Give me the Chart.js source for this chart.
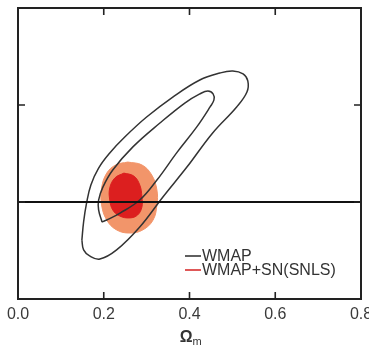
<!DOCTYPE html>
<html>
<head>
<meta charset="utf-8">
<script src="https://cdn.jsdelivr.net/npm/chart.js@4/dist/chart.umd.min.js"></script>
<style>
  html, body { margin: 0; padding: 0; background: #fff; }
  canvas { display: block; }
</style>
</head>
<body>
<canvas id="omega" width="369" height="350"></canvas>
<script>
// axis ticks
var xTicks = [0.0, 0.2, 0.4, 0.6, 0.8]
var yTicks = [-1.5, -1.0, -0.5, 0.0]

// WMAP contours (Omega_m, w)
var wmapOuterX = [0.149, 0.153, 0.160, 0.170, 0.188, 0.214, 0.249, 0.300, 0.361, 0.424, 0.471, 0.501,
                  0.525, 0.536, 0.534, 0.510, 0.454, 0.394, 0.338, 0.284, 0.230, 0.191, 0.167, 0.153]
var wmapOuterW = [-1.196, -1.103, -1.005, -0.912, -0.825, -0.747, -0.665, -0.562, -0.459, -0.371, -0.335, -0.325,
                  -0.340, -0.376, -0.433, -0.510, -0.644, -0.820, -0.974, -1.129, -1.247, -1.294, -1.278, -1.247]
var wmapInnerX = [0.196, 0.188, 0.188, 0.198, 0.221, 0.268, 0.331, 0.389, 0.424, 0.443, 0.455, 0.457,
                  0.448, 0.417, 0.370, 0.324, 0.284, 0.238, 0.207]
var wmapInnerW = [-1.103, -1.041, -0.990, -0.923, -0.835, -0.716, -0.593, -0.490, -0.443, -0.428, -0.443, -0.474,
                  -0.510, -0.613, -0.747, -0.887, -0.990, -1.057, -1.093]

// WMAP+SN(SNLS) filled regions
var snOuterX = [0.256, 0.289, 0.312, 0.324, 0.324, 0.315, 0.291, 0.261, 0.230, 0.207, 0.195, 0.195, 0.207, 0.228]
var snOuterW = [-0.794, -0.809, -0.861, -0.938, -1.015, -1.093, -1.144, -1.160, -1.144, -1.093, -1.015, -0.928, -0.851, -0.809]
var snInnerX = [0.247, 0.270, 0.284, 0.289, 0.289, 0.279, 0.261, 0.237, 0.221, 0.214, 0.214, 0.226]
var snInnerW = [-0.851, -0.866, -0.912, -0.974, -1.026, -1.067, -1.082, -1.072, -1.041, -0.990, -0.928, -0.876]

// w = -1 reference line
var wConst = -1.0

var legendLabels = ['WMAP', 'WMAP+SN(SNLS)']
var legendColors = ['#2a2a2a', '#d42020']

function loop(xs, ws) {
  var p = xs.map(function(x, i){ return {x: x, y: ws[i]} })
  p.push({x: xs[0], y: ws[0]})
  return p
}

var FONT = '"Liberation Sans", Arial, sans-serif'

var framePlugin = {
  id: 'frame',
  afterDraw: function(chart) {
    var ctx = chart.ctx
    var a = chart.chartArea
    var xs = chart.scales.x, ys = chart.scales.y
    ctx.save()
    ctx.strokeStyle = '#222'
    ctx.lineWidth = 2
    ctx.strokeRect(a.left, a.top, a.right - a.left, a.bottom - a.top)

    // inward ticks on all four sides
    ctx.lineWidth = 1.6
    ctx.beginPath()
    xTicks.slice(1, -1).forEach(function(v){
      var px = xs.getPixelForValue(v)
      ctx.moveTo(px, a.bottom); ctx.lineTo(px, a.bottom - 7)
      ctx.moveTo(px, a.top); ctx.lineTo(px, a.top + 7)
    })
    yTicks.slice(1, -1).forEach(function(v){
      var py = ys.getPixelForValue(v)
      ctx.moveTo(a.left, py); ctx.lineTo(a.left + 7, py)
      ctx.moveTo(a.right, py); ctx.lineTo(a.right - 7, py)
    })
    ctx.stroke()

    // legend
    ctx.font = '16px ' + FONT
    ctx.textBaseline = 'middle'
    legendLabels.forEach(function(t, i){
      var y = 256 + i * 14
      ctx.strokeStyle = legendColors[i]
      ctx.lineWidth = 1.5
      ctx.beginPath(); ctx.moveTo(185, y); ctx.lineTo(201, y); ctx.stroke()
      ctx.fillStyle = '#333'
      ctx.fillText(t, 202, y + 1)
    })

    // axis title: Omega with subscript m
    var cx = xs.getPixelForValue(0.4)
    ctx.fillStyle = '#333'
    ctx.textBaseline = 'alphabetic'
    ctx.font = 'bold 16px ' + FONT
    ctx.textAlign = 'right'
    ctx.fillText('\u03A9', cx + 3, 342)
    ctx.font = '11px ' + FONT
    ctx.textAlign = 'left'
    ctx.fillText('m', cx + 3, 345)
    ctx.restore()
  }
}

var ctx = document.getElementById('omega').getContext('2d')

var chart = new Chart(ctx, {
  type: 'scatter',
  data: {
    datasets: [
      {
        label: 'w=-1',
        data: [{x: xTicks[0], y: wConst}, {x: xTicks[xTicks.length - 1], y: wConst}],
        showLine: true, tension: 0, borderColor: '#111', borderWidth: 1.8,
        pointRadius: 0, order: 0
      },
      {
        label: 'WMAP inner',
        data: loop(wmapInnerX, wmapInnerW),
        showLine: true, tension: 0.4, borderColor: '#333', borderWidth: 1.5,
        pointRadius: 0, fill: false, order: 1
      },
      {
        label: 'WMAP outer',
        data: loop(wmapOuterX, wmapOuterW),
        showLine: true, tension: 0.4, borderColor: '#333', borderWidth: 1.5,
        pointRadius: 0, fill: false, order: 2
      },
      {
        label: 'SNLS inner',
        data: loop(snInnerX, snInnerW),
        showLine: true, tension: 0.4, borderColor: '#dc1f1f', borderWidth: 1,
        backgroundColor: '#dc1f1f', pointRadius: 0, fill: 'shape', order: 3
      },
      {
        label: 'SNLS outer',
        data: loop(snOuterX, snOuterW),
        showLine: true, tension: 0.4, borderColor: '#f2956a', borderWidth: 1,
        backgroundColor: '#f2956a', pointRadius: 0, fill: 'shape', order: 4
      }
    ]
  },
  options: {
    responsive: false,
    animation: false,
    layout: { padding: { left: 18, right: 8, top: 8, bottom: 0 } },
    plugins: { legend: { display: false }, tooltip: { enabled: false } },
    scales: {
      x: {
        type: 'linear', min: 0, max: 0.8,
        afterBuildTicks: function(s){ s.ticks = xTicks.map(function(v){ return {value: v} }) },
        afterFit: function(s){ s.height = 51; s.paddingLeft = 0; s.paddingRight = 0 },
        grid: { display: false, drawTicks: false },
        border: { display: false },
        ticks: {
          padding: 6, color: '#3a3a3a', maxRotation: 0, autoSkip: false,
          font: { family: FONT, size: 16 },
          callback: function(v){ return Number(v).toFixed(1) }
        }
      },
      y: {
        type: 'linear', min: yTicks[0], max: yTicks[yTicks.length - 1],
        display: false
      }
    }
  },
  plugins: [framePlugin]
})
</script>
</body>
</html>
